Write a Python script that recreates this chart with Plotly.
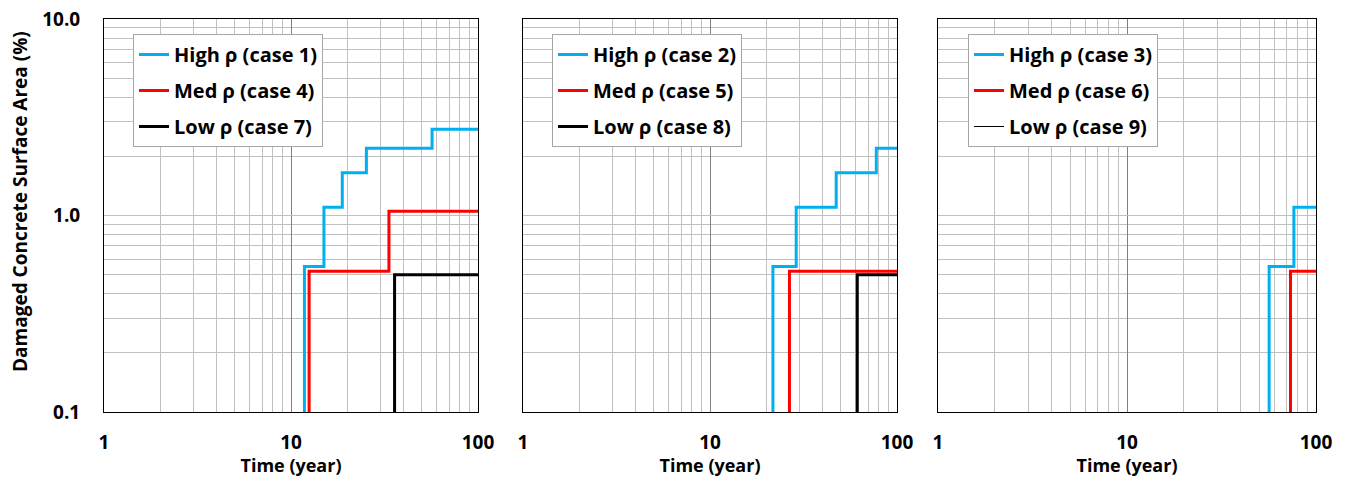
import plotly.graph_objects as go

# Onset times (years) of each damage increment and the damaged area (%) reached
case1_t = [11.8, 15.0, 18.8, 25.3, 56.8]
case1_y = [0.55, 1.10, 1.65, 2.20, 2.75]
case4_t = [12.5, 33.4]
case4_y = [0.52, 1.05]
case7_t = [35.8]
case7_y = [0.50]

case2_t = [21.7, 28.9, 47.3, 77.5]
case2_y = [0.55, 1.10, 1.65, 2.20]
case5_t = [26.6]
case5_y = [0.52]
case8_t = [61.3]
case8_y = [0.50]

case3_t = [56.5, 76.4]
case3_y = [0.55, 1.10]
case6_t = [73.3]
case6_y = [0.52]
case9_t = []
case9_y = []

END_YEAR = 100
ZERO_AREA = 0.01  # stands in for 0 % on the log axis (below the visible range)

x_ticks = [1, 10, 100]
x_ticktext = ["1", "10", "100"]
y_ticks = [0.1, 1, 10]
y_ticktext = ["0.1", "1.0", "10.0"]

BLUE = "#00B0F0"
RED = "#FF0000"
BLACK = "#000000"
FONT = "Open Sans"


def step_xy(t, y):
    """Cumulative step curve: 0 before the first onset, held to END_YEAR."""
    if not t:
        # no damage within the period: the curve stays at zero
        return [END_YEAR], [ZERO_AREA]
    xs = [t[0]] + list(t) + [END_YEAR]
    ys = [ZERO_AREA] + list(y) + [y[-1]]
    return xs, ys


panels = [
    [("High ρ (case 1)", case1_t, case1_y, BLUE, 3),
     ("Med ρ (case 4)", case4_t, case4_y, RED, 3),
     ("Low ρ (case 7)", case7_t, case7_y, BLACK, 3)],
    [("High ρ (case 2)", case2_t, case2_y, BLUE, 3),
     ("Med ρ (case 5)", case5_t, case5_y, RED, 3),
     ("Low ρ (case 8)", case8_t, case8_y, BLACK, 3)],
    [("High ρ (case 3)", case3_t, case3_y, BLUE, 3),
     ("Med ρ (case 6)", case6_t, case6_y, RED, 3),
     ("Low ρ (case 9)", case9_t, case9_y, BLACK, 1)],
]

W, H = 1348, 477
ML, MR, MT, MB = 104, 32, 19, 65
PW = W - ML - MR
PH = H - MT - MB

def px_x(p):
    return (p - ML) / PW

def px_y(p):
    return 1 - (p - MT) / PH

domains = [[px_x(104), px_x(478)], [px_x(523), px_x(897)], [px_x(938), 1.0]]
legend_left = [133, 552, 968]

fig = go.Figure()
for i, series in enumerate(panels):
    sfx = "" if i == 0 else str(i + 1)
    for j, (name, t, y, color, width) in enumerate(series):
        xs, ys = step_xy(t, y)
        fig.add_trace(go.Scatter(
            x=xs, y=ys, mode="lines", name=name,
            line=dict(color=color, width=width, shape="hv"),
            xaxis="x" + sfx, yaxis="y" + sfx,
            legend="legend" + sfx, legendgroup=f"p{i}s{j}",
            showlegend=True,
        ))

axis_common = dict(
    type="log", showline=True, mirror=True, linecolor="#000000", linewidth=1,
    ticks="", zeroline=False, automargin=False,
    tickfont=dict(family=FONT, size=19, color="#000000", weight="bold"),
)

for i in range(3):
    sfx = "" if i == 0 else str(i + 1)
    fig.layout["xaxis" + sfx] = dict(
        axis_common, domain=domains[i], range=[0, 2], anchor="y" + sfx,
        tickvals=x_ticks, ticktext=x_ticktext, ticklabelstandoff=13,
        showgrid=True, gridcolor="#808080", gridwidth=1,
        minor=dict(dtick="D1", showgrid=True, gridcolor="#c0c0c0", gridwidth=1),
        title=dict(text="Time (year)", standoff=6,
                   font=dict(family=FONT, size=18, color="#000000", weight="bold")),
    )
    fig.layout["yaxis" + sfx] = dict(
        axis_common, domain=[0, 1], range=[-1, 1], anchor="x" + sfx,
        tickvals=y_ticks, ticktext=y_ticktext, ticklabelstandoff=19,
        showticklabels=(i == 0),
        showgrid=True, gridcolor="#c0c0c0", gridwidth=1,
        minor=dict(dtick="D1", showgrid=True, gridcolor="#c0c0c0", gridwidth=1),
    )
    fig.layout["legend" + sfx] = dict(
        x=px_x(legend_left[i]), y=px_y(34), xanchor="left", yanchor="top",
        xref="paper", yref="paper",
        bgcolor="#ffffff", bordercolor="#a6a6a6", borderwidth=1,
        font=dict(family=FONT, size=20, color="#000000", weight="bold"),
        tracegroupgap=7, itemwidth=30,
    )

fig.add_annotation(
    text="Damaged Concrete Surface Area (%)", textangle=-90,
    xref="paper", yref="paper", x=px_x(20), y=px_y(202),
    xanchor="center", yanchor="middle", showarrow=False,
    font=dict(family=FONT, size=19, color="#000000", weight="bold"),
)

fig.update_layout(
    width=W, height=H,
    margin=dict(l=ML, r=MR, t=MT, b=MB),
    paper_bgcolor="#ffffff", plot_bgcolor="#ffffff",
)

fig.write_html("out.html")
